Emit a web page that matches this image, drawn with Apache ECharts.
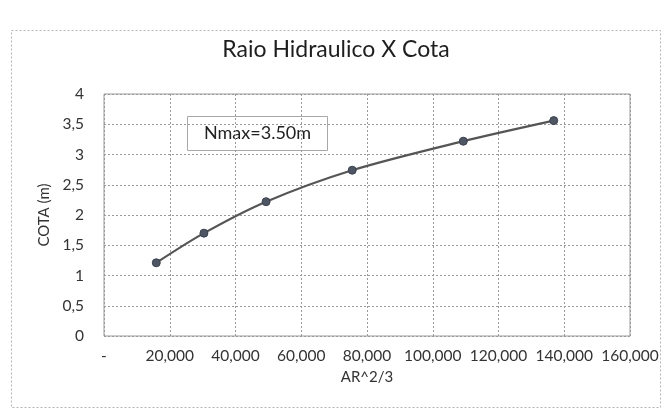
<!DOCTYPE html>
<html>
<head>
<meta charset="utf-8">
<script src="https://cdn.jsdelivr.net/npm/echarts@6/dist/echarts.min.js"></script>
<style>
  html, body { margin: 0; padding: 0; background: #fff; }
  #chart { width: 672px; height: 416px; }
</style>
</head>
<body>
<div id="chart"></div>
<script>
// AR^2/3 vs cota
const arValues = [15900, 30400, 49300, 75500, 109300, 136800]
const cotaValues = [1.21, 1.70, 2.22, 2.74, 3.22, 3.56]
const xTicks = [0, 20000, 40000, 60000, 80000, 100000, 120000, 140000, 160000]
const yTicks = [0, 0.5, 1, 1.5, 2, 2.5, 3, 3.5, 4]
const noteText = 'Nmax=3.50m'

const font = 'Lato, "Open Sans", sans-serif'
const gridLine = { show: true, lineStyle: { color: '#9a9a9a', type: [2, 2], width: 1 } }

const chart = echarts.init(document.getElementById('chart'))
chart.setOption({
  backgroundColor: '#fff',
  animation: false,
  title: {
    text: 'Raio Hidraulico X Cota',
    left: 'center',
    top: 33,
    textStyle: { fontFamily: font, fontSize: 23, fontWeight: 'normal', color: '#1e1e1e' }
  },
  grid: {
    left: 104,
    right: 42,
    top: 94,
    bottom: 80,
    show: true,
    borderColor: '#9a9a9a',
    borderWidth: 1
  },
  xAxis: {
    type: 'value',
    min: xTicks[0],
    max: xTicks[xTicks.length - 1],
    interval: 20000,
    name: 'AR^2/3',
    nameLocation: 'middle',
    nameGap: 34,
    nameTextStyle: { fontFamily: font, fontSize: 15, color: '#333' },
    axisLine: { show: false },
    axisTick: { show: false },
    axisLabel: {
      margin: 12,
      fontFamily: font,
      fontSize: 15.5,
      color: '#333',
      formatter: v => v === 0 ? '-' : v.toLocaleString('en-US')
    },
    splitLine: gridLine
  },
  yAxis: {
    type: 'value',
    min: yTicks[0],
    max: yTicks[yTicks.length - 1],
    interval: 0.5,
    name: 'COTA (m)',
    nameLocation: 'middle',
    nameGap: 44,
    nameTextStyle: { fontFamily: font, fontSize: 15, color: '#333' },
    axisLine: { show: false },
    axisTick: { show: false },
    axisLabel: {
      margin: 20,
      fontFamily: font,
      fontSize: 15.5,
      color: '#333',
      formatter: v => String(v).replace('.', ',')
    },
    splitLine: gridLine
  },
  graphic: [
    {
      type: 'rect',
      left: 9,
      top: 28,
      shape: { width: 649, height: 377 },
      style: { fill: 'none', stroke: '#b5b5b5', lineWidth: 1, lineDash: [2, 2] },
      silent: true
    },
    {
      type: 'group',
      left: 187,
      top: 116,
      children: [
        {
          type: 'rect',
          shape: { width: 140, height: 34 },
          style: { fill: '#fff', stroke: '#a8a8a8', lineWidth: 1 }
        },
        {
          type: 'text',
          x: 70,
          y: 17,
          style: {
            text: noteText,
            fontFamily: font,
            fontSize: 18,
            fill: '#222',
            align: 'center',
            verticalAlign: 'middle'
          }
        }
      ]
    }
  ],
  series: [
    {
      type: 'line',
      smooth: 0.3,
      data: arValues.map((x, i) => [x, cotaValues[i]]),
      symbol: 'circle',
      symbolSize: 8,
      lineStyle: { color: '#555', width: 2.2 },
      itemStyle: { color: '#4e5563', borderColor: '#3c4250', borderWidth: 1 }
    }
  ]
})
</script>
</body>
</html>
